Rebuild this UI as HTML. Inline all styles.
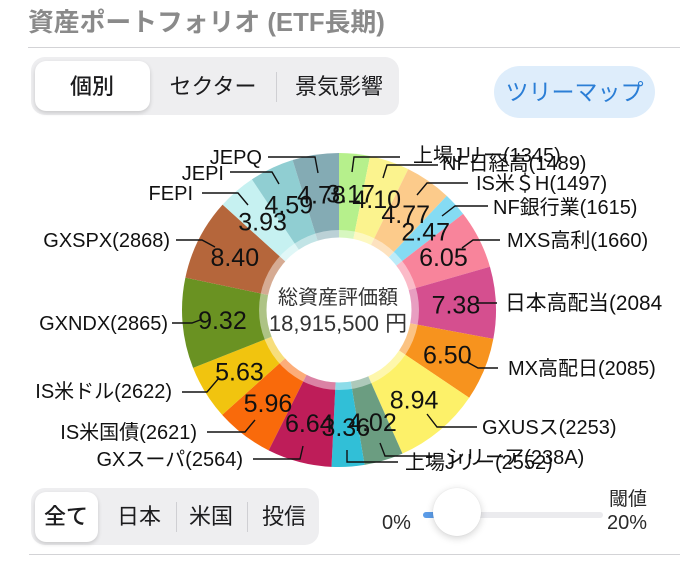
<!DOCTYPE html>
<html><head><meta charset="utf-8">
<style>
*{margin:0;padding:0;box-sizing:border-box}
html,body{width:680px;height:564px;overflow:hidden;background:#fff}
body{position:relative;font-family:"Liberation Sans","Noto Sans CJK JP",sans-serif;color:#1c1c1e}
.abs{position:absolute}
.title{left:28px;top:9px;font-size:25.8px;line-height:28px;font-weight:bold;color:#8a8a8a;white-space:nowrap}
.hr{height:1px;background:#d3d3d6}
.seg{background:#eeeef0;border-radius:14px}
.sel{background:#fff;border-radius:11px;box-shadow:0 2px 4px rgba(0,0,0,.16)}
.lbl{font-size:22px;line-height:26px;text-align:center;white-space:nowrap;transform:translateX(-50%)}
.dv{width:1px;background:#cfcfd3}
.btn{left:494px;top:66px;width:161px;height:52px;border-radius:26px;background:#deedfb;color:#2b7ed6;font-size:23px;line-height:52px;text-align:center}
.sm{font-size:20px;line-height:22px;color:#2a2a2a;white-space:nowrap}
</style></head><body>
<div class="abs title">資産ポートフォリオ (ETF長期)</div>
<div class="abs hr" style="left:28px;top:47px;width:652px"></div>

<div class="abs seg" style="left:31px;top:57px;width:368px;height:58px"></div>
<div class="abs sel" style="left:35px;top:61px;width:115px;height:50px"></div>
<div class="abs lbl" style="left:92px;top:74px;font-weight:500">個別</div>
<div class="abs lbl" style="left:213px;top:74px">セクター</div>
<div class="abs dv" style="left:276px;top:72px;height:30px"></div>
<div class="abs lbl" style="left:339px;top:74px">景気影響</div>
<div class="abs btn">ツリーマップ</div>

<svg class="abs" style="left:0;top:0" width="680" height="564" viewBox="0 0 680 564">
<g>
<path d="M339,310 L339,153 A157,157 0 0 1 370.06,156.10 Z" fill="#b6f08c"/>
<path d="M339,310 L370.06,156.10 A157,157 0 0 1 408.24,169.09 Z" fill="#fbf38e"/>
<path d="M339,310 L408.24,169.09 A157,157 0 0 1 446.76,195.82 Z" fill="#fccb8b"/>
<path d="M339,310 L446.76,195.82 A157,157 0 0 1 463.12,213.85 Z" fill="#85dbf3"/>
<path d="M339,310 L463.12,213.85 A157,157 0 0 1 489.93,266.77 Z" fill="#f8849b"/>
<path d="M339,310 L489.93,266.77 A157,157 0 0 1 493.33,338.84 Z" fill="#d54f8f"/>
<path d="M339,310 L493.33,338.84 A157,157 0 0 1 469.18,397.76 Z" fill="#f7931e"/>
<path d="M339,310 L469.18,397.76 A157,157 0 0 1 402.43,453.62 Z" fill="#fdf169"/>
<path d="M339,310 L402.43,453.62 A157,157 0 0 1 364.53,464.91 Z" fill="#6b9d81"/>
<path d="M339,310 L364.53,464.91 A157,157 0 0 1 331.51,466.82 Z" fill="#31bfd7"/>
<path d="M339,310 L331.51,466.82 A157,157 0 0 1 268.60,450.34 Z" fill="#be1d59"/>
<path d="M339,310 L268.60,450.34 A157,157 0 0 1 222.15,414.86 Z" fill="#f96a0b"/>
<path d="M339,310 L222.15,414.86 A157,157 0 0 1 193.06,367.89 Z" fill="#f1c40f"/>
<path d="M339,310 L193.06,367.89 A157,157 0 0 1 185.38,277.58 Z" fill="#6a9222"/>
<path d="M339,310 L185.38,277.58 A157,157 0 0 1 222.61,204.63 Z" fill="#b5663b"/>
<path d="M339,310 L222.61,204.63 A157,157 0 0 1 251.90,179.37 Z" fill="#c6f1f1"/>
<path d="M339,310 L251.90,179.37 A157,157 0 0 1 292.65,160.00 Z" fill="#90ced2"/>
<path d="M339,310 L292.65,160.00 A157,157 0 0 1 339,153 Z" fill="#84abb4"/>
</g>
<circle cx="339" cy="310" r="80" fill="#fff" fill-opacity="0.45"/>
<circle cx="339" cy="310" r="72.5" fill="#fff"/>
<g font-family="Liberation Sans, Noto Sans CJK JP, sans-serif" fill="#333" text-anchor="middle">
<text x="338" y="304" font-size="20">総資産評価額</text>
<text x="338" y="331" font-size="22">18,915,500 円</text>
</g>
<g fill="none" stroke="#111" stroke-width="1.4">
<polyline points="268,157 315,157 318,173"/>
<polyline points="230,172 272,172 279,184"/>
<polyline points="202,193 238,193 248,205"/>
<polyline points="176,240 202,240 215,247"/>
<polyline points="172,323 192,323 200,320"/>
<polyline points="182,392 207,392 219,378"/>
<polyline points="207,432 245,432 255,420"/>
<polyline points="253,459 300,459 303,446"/>
<polyline points="352,172 354,157 400,157"/>
<polyline points="383,178 387,165 438,165"/>
<polyline points="417,195 427,183 468,183"/>
<polyline points="442,216 455,206 488,206"/>
<polyline points="462,248 473,240 500,240"/>
<polyline points="477,303 497,303"/>
<polyline points="467,362 478,368 498,368"/>
<polyline points="427,414 437,427 477,427"/>
<polyline points="380,443 385,456 440,456"/>
<polyline points="347,450 347,462 398,462"/>
</g>
<g font-family="Liberation Sans, Noto Sans CJK JP, sans-serif" font-size="25" fill="#111" text-anchor="middle">
<text x="350.6" y="202.6">3.17</text>
<text x="376.7" y="208.2">4.10</text>
<text x="405.7" y="222.9">4.77</text>
<text x="425.7" y="240.4">2.47</text>
<text x="443.4" y="266.1">6.05</text>
<text x="455.9" y="313.5">7.38</text>
<text x="447.3" y="363.4">6.50</text>
<text x="414.1" y="408.7">8.94</text>
<text x="372.4" y="431.1">4.02</text>
<text x="345.8" y="435.8">3.36</text>
<text x="309.3" y="432.2">6.64</text>
<text x="268.0" y="412">5.96</text>
<text x="239.5" y="380.6">5.63</text>
<text x="222.4" y="328.9">9.32</text>
<text x="234.8" y="265.8">8.40</text>
<text x="262.6" y="230.4">3.93</text>
<text x="288.8" y="213.3">4.59</text>
<text x="321.5" y="203.3">4.78</text>
</g>
<g font-family="Liberation Sans, Noto Sans CJK JP, sans-serif" font-size="20" fill="#111">
<g text-anchor="end">
<text x="262" y="164">JEPQ</text>
<text x="224" y="180">JEPI</text>
<text x="193" y="200">FEPI</text>
<text x="170" y="247">GXSPX(2868)</text>
<text x="168" y="330">GXNDX(2865)</text>
<text x="172" y="398">IS米ドル(2622)</text>
<text x="197" y="439">IS米国債(2621)</text>
<text x="243" y="466">GXスーパ(2564)</text>
</g>
<text x="413" y="162">上場Jリー(1345)</text>
<text x="442" y="170">NF日経高(1489)</text>
<text x="476" y="190">IS米＄H(1497)</text>
<text x="493" y="214">NF銀行業(1615)</text>
<text x="507" y="247">MXS高利(1660)</text>
<text x="505" y="310" font-size="20.8">日本高配当(2084</text>
<text x="508" y="375">MX高配日(2085)</text>
<text x="482" y="434">GXUSス(2253)</text>
<text x="445" y="464">シリーア(238A)</text>
<text x="405" y="469">上場Jリー(2552)</text>
</g>
</svg>

<div class="abs seg" style="left:31px;top:488px;width:288px;height:57px"></div>
<div class="abs sel" style="left:35px;top:492px;width:63px;height:50px"></div>
<div class="abs lbl" style="left:66px;top:504px;font-weight:500">全て</div>
<div class="abs lbl" style="left:139px;top:504px">日本</div>
<div class="abs dv" style="left:176px;top:502px;height:30px"></div>
<div class="abs lbl" style="left:211px;top:504px">米国</div>
<div class="abs dv" style="left:247px;top:502px;height:30px"></div>
<div class="abs lbl" style="left:284px;top:504px">投信</div>

<div class="abs sm" style="left:382px;top:512px">0%</div>
<div class="abs" style="left:423px;top:512px;width:180px;height:6px;border-radius:3px;background:#ebebee"></div>
<div class="abs" style="left:423px;top:512px;width:14px;height:6px;border-radius:3px;background:#5b9ce8"></div>
<div class="abs" style="left:433px;top:488px;width:48px;height:48px;border-radius:50%;background:#fff;box-shadow:0 2px 8px rgba(0,0,0,.18),0 0 1px rgba(0,0,0,.1)"></div>
<div class="abs sm" style="left:609px;top:489px;font-size:19px">閾値</div>
<div class="abs sm" style="left:607px;top:512px">20%</div>
<div class="abs hr" style="left:29px;top:554px;width:651px"></div>
</body></html>
